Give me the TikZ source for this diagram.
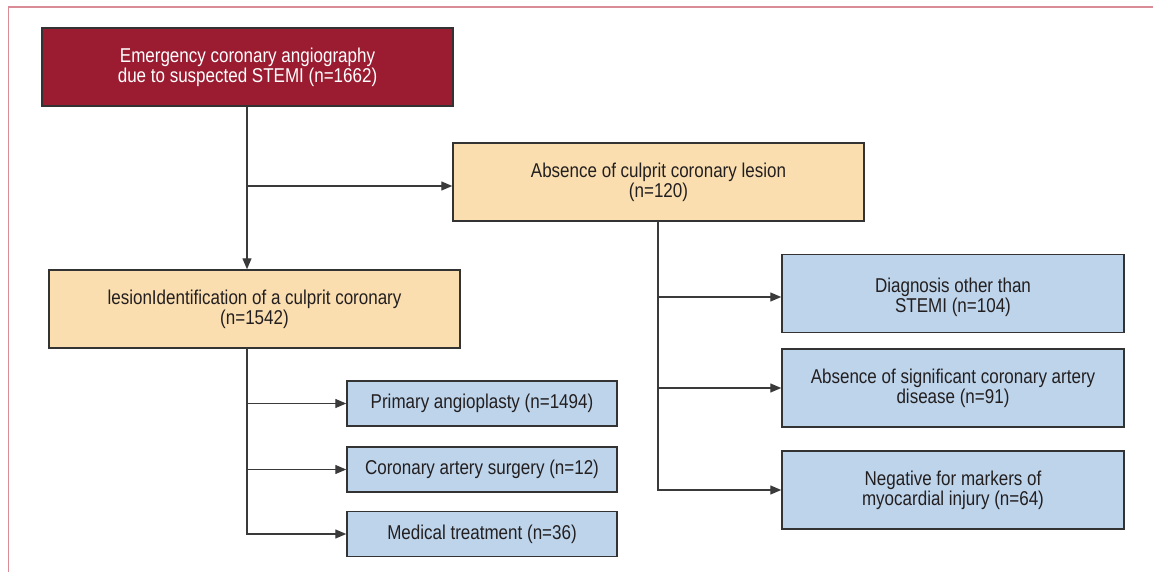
\documentclass[tikz,border=0pt]{standalone}
\usepackage{fontspec}
\setmainfont{Liberation Sans}[FakeStretch=0.85]
\usetikzlibrary{arrows.meta}
\definecolor{framepink}{HTML}{D98B96}
\definecolor{topred}{HTML}{9B1C31}
\definecolor{peach}{HTML}{FADEB0}
\definecolor{lblue}{HTML}{BDD4EB}
\definecolor{edge}{HTML}{333333}
\definecolor{linec}{HTML}{3A3A3A}
\definecolor{txt}{HTML}{231F20}
\tikzset{
  boxtext/.style={inner sep=0pt, align=center, font=\fontsize{20}{20}\selectfont, text=txt},
  box/.style={boxtext, draw=edge, line width=1.5pt, rectangle},
  redbox/.style={box, fill=topred, text=white, minimum width=411pt, minimum height=78pt},
  peachbox/.style={box, fill=peach, minimum width=411pt, minimum height=78pt},
  smallbox/.style={box, fill=lblue, minimum width=270pt, minimum height=45pt},
  rightbox/.style={box, fill=lblue, minimum width=342pt, minimum height=78pt},
  conn/.style={draw=linec, line width=1.4pt},
  arr/.style={conn, -{Triangle[length=11pt,width=9pt]}},
}
\begin{document}
\begin{tikzpicture}[x=1pt,y=-1pt]
\useasboundingbox (0,0) rectangle (1153,572);
\draw[framepink, line width=1.6pt] (8.5,572) -- (8.5,7) -- (1153,7);

\node[redbox] (top) at (247.5,67) {Emergency coronary angiography\\due to suspected STEMI (n=1662)};
\node[peachbox] (abs) at (658.5,182) {Absence of culprit coronary lesion\\(n=120)};
\node[peachbox] (les) at (254.5,309) {lesionIdentification of a culprit coronary\\(n=1542)};
\node[smallbox] (prim) at (482,403.5) {Primary angioplasty (n=1494)};
\node[smallbox] (surg) at (482,469.5) {Coronary artery surgery (n=12)};
\node[smallbox] (med) at (482,534) {Medical treatment (n=36)};
\node[rightbox] (diag) at (953,293.5) {};
\node[boxtext] (diagtxt) at (953,297) {Diagnosis other than\\STEMI (n=104)};
\node[rightbox] (sig) at (953,388) {Absence of significant coronary artery\\disease (n=91)};
\node[rightbox] (neg) at (953,490) {Negative for markers of\\myocardial injury (n=64)};

\coordinate (tv) at (247,186);
\coordinate (lv) at (247,348);
\coordinate (av) at (658,221);

\draw[arr] (top.south -| tv) -- (tv |- les.north);
\draw[arr] (tv) -- (abs.west |- tv);

\draw[arr] (lv) |- (med.west);
\draw[arr] (lv |- prim.west) -- (prim.west);
\draw[arr] (lv |- surg.west) -- (surg.west);

\draw[arr] (av) |- (neg.west);
\draw[arr] (av |- diagtxt) -- (diag.west |- diagtxt);
\draw[arr] (av |- sig.west) -- (sig.west);
\end{tikzpicture}
\end{document}
